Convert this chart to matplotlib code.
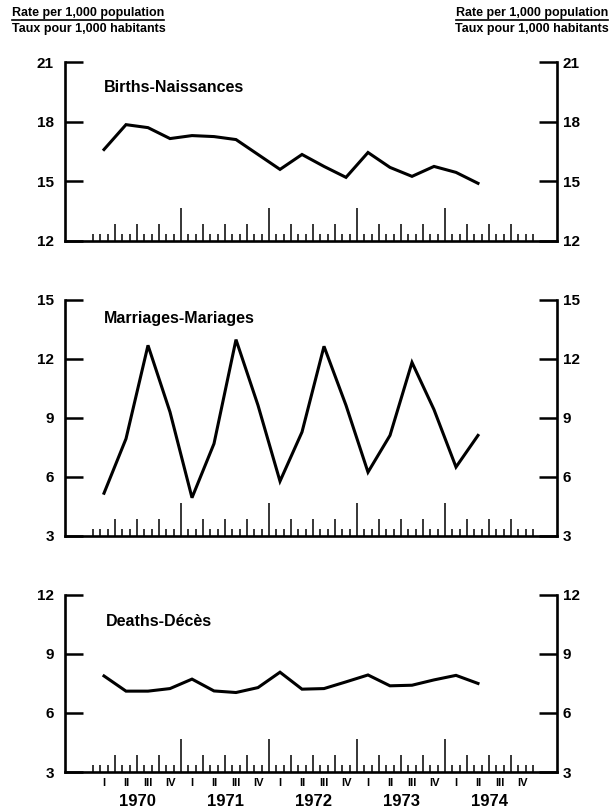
import matplotlib
matplotlib.use('Agg')
import matplotlib.pyplot as plt
import numpy as np
from matplotlib.lines import Line2D

plt.rcParams['font.family'] = ['Liberation Sans', 'DejaVu Sans']

# ---- data -------------------------------------------------------------
years = [1970, 1971, 1972, 1973, 1974]
quarter_labels = ['I', 'II', 'III', 'IV']
# quarterly observations 1970-I ... 1974-II
quarters = [(y, q) for y in years for q in range(4)][:18]

births = [16.6, 17.85, 17.7, 17.15, 17.3, 17.25, 17.1, 16.35, 15.6,
          16.35, 15.75, 15.2, 16.45, 15.7, 15.25, 15.75, 15.45, 14.9]
marriages = [5.15, 7.92, 12.67, 9.28, 4.92, 7.67, 12.96, 9.62, 5.76,
             8.26, 12.62, 9.62, 6.22, 8.09, 11.8, 9.4, 6.48, 8.09]
deaths = [7.87, 7.1, 7.1, 7.23, 7.71, 7.11, 7.03, 7.28, 8.06,
          7.2, 7.23, 7.57, 7.92, 7.37, 7.4, 7.67, 7.9, 7.49]

titles = ['Births-Naissances', 'Marriages-Mariages', 'Deaths-Décès']
yticks_list = [[12, 15, 18, 21], [3, 6, 9, 12, 15], [3, 6, 9, 12]]
header_en = 'Rate per 1,000 population'
header_fr = 'Taux pour 1,000 habitants'

# ---- layout -----------------------------------------------------------
W, H = 610, 811
fig = plt.figure(figsize=(W / 100, H / 100), dpi=100)

def rect(top_px, bot_px):
    return [65 / W, 1 - bot_px / H, (557 - 65) / W, (bot_px - top_px) / H]

rects = [rect(62, 241), rect(299.5, 535.5), rect(594.5, 772)]
title_pos = [(0.079, 0.855), (0.079, 0.92), (0.083, 0.847)]

xq = np.array([y + q / 4 + 0.125 for (y, q) in quarters])
x0, x1 = years[0], years[-1] + 1
months = np.arange(x0 * 12, x1 * 12 + 1) / 12.0
qb = np.arange(x0 * 4, x1 * 4 + 1) / 4.0
year_b = [y for y in years[1:]]
quarter_b = [q for q in qb if abs(q - round(q)) > 1e-9]
month_b = [m for m in months if abs(m * 4 - round(m * 4)) > 1e-9 or m in (x0, x1)]

px_per_year = 88.0
xlim = (x0 - 28 / px_per_year, x0 + (557 - 93) / px_per_year)

series = [births, marriages, deaths]
lw_spine = 1.9

for i, (data, yt, title) in enumerate(zip(series, yticks_list, titles)):
    ax = fig.add_axes(rects[i])
    ax.plot(xq, data, color='black', lw=2.2, solid_joinstyle='miter')
    ax.set_xlim(*xlim)
    ax.set_ylim(yt[0], yt[-1])
    ax.spines['top'].set_visible(False)
    for s in ['left', 'right', 'bottom']:
        ax.spines[s].set_linewidth(lw_spine)
    ax.set_yticks(yt)
    ax.set_yticklabels([str(v) for v in yt], fontweight='bold', fontsize=11)
    ax.tick_params(axis='y', direction='in', length=13, width=1.8,
                   left=True, right=True, labelleft=True, labelright=False,
                   pad=8)
    sr = ax.secondary_yaxis('right')
    sr.set_yticks(yt)
    sr.set_yticklabels([str(v) for v in yt], fontweight='bold', fontsize=11)
    sr.tick_params(length=0, pad=4)
    sr.spines['right'].set_visible(False)

    # x ticks: years (tall), months (short), quarters via secondary axis
    ax.set_xticks(year_b)
    ax.set_xticks(month_b, minor=True)
    ax.tick_params(axis='x', which='major', direction='in', length=24, width=1.1,
                   labelbottom=False)
    ax.tick_params(axis='x', which='minor', direction='in', length=5, width=1.1,
                   labelbottom=False)
    sq = ax.secondary_xaxis('bottom')
    sq.set_xticks(quarter_b)
    sq.tick_params(direction='in', length=12, width=1.1, labelbottom=False)
    sq.spines['bottom'].set_visible(False)

    ax.text(title_pos[i][0], title_pos[i][1], title, transform=ax.transAxes,
            fontsize=11.5, fontweight='bold', va='center', ha='left')

    if i == 2:
        sl = ax.secondary_xaxis('bottom')
        lab_x = [y + q / 4 + 0.125 for y in years for q in range(4)]
        lab_t = [quarter_labels[q] for y in years for q in range(4)]
        sl.set_xticks(lab_x, labels=lab_t)
        sl.tick_params(length=0, pad=4, labelsize=8)
        for lab in sl.get_xticklabels():
            lab.set_fontweight('bold')
        sl.spines['bottom'].set_visible(False)
        sy = ax.secondary_xaxis('bottom')
        sy.set_xticks([y + 0.5 for y in years], labels=[str(y) for y in years])
        sy.tick_params(length=0, pad=16, labelsize=12)
        for lab in sy.get_xticklabels():
            lab.set_fontweight('bold')
        sy.spines['bottom'].set_visible(False)

# ---- headers ------------------------------------------------------------
fs = 9
t1 = fig.text(12 / W, 1 - 13 / H, header_en, fontsize=fs, fontweight='bold',
              ha='left', va='center')
fig.text(12 / W, 1 - 29 / H, header_fr, fontsize=fs, fontweight='bold',
         ha='left', va='center')
t3 = fig.text(608 / W, 1 - 13 / H, header_en, fontsize=fs, fontweight='bold',
              ha='right', va='center')
fig.text(609 / W, 1 - 29 / H, header_fr, fontsize=fs, fontweight='bold',
         ha='right', va='center')

fig.canvas.draw()
r = fig.canvas.get_renderer()
for t in (t1, t3):
    bb = t.get_window_extent(r).transformed(fig.transFigure.inverted())
    fig.add_artist(Line2D([bb.x0, bb.x1], [bb.y0 - 1.0 / H] * 2,
                          transform=fig.transFigure, color='black', lw=1.2))

fig.savefig('out.png', dpi=100)
